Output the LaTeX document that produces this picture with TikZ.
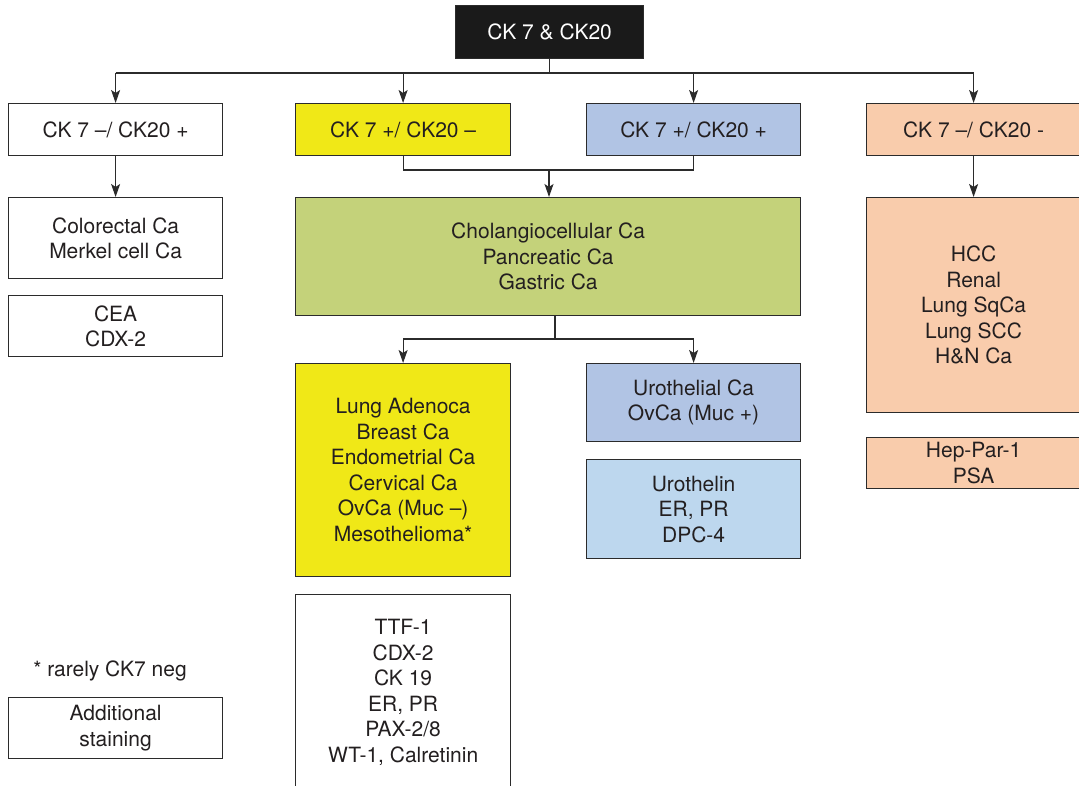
\documentclass[tikz,border=0pt]{standalone}
\usepackage{fontspec}
\setmainfont{TeX Gyre Heros}
\usetikzlibrary{arrows.meta}
\definecolor{linec}{HTML}{2B2B2B}
\definecolor{textc}{HTML}{231F20}
\definecolor{topc}{HTML}{1A1A1A}
\definecolor{yellowc}{HTML}{F0E817}
\definecolor{bluec}{HTML}{B1C4E4}
\definecolor{greenc}{HTML}{C4D27A}
\definecolor{peachc}{HTML}{F9CCAC}
\definecolor{lbluec}{HTML}{BDD7EE}
\begin{document}
\begin{tikzpicture}[x=1pt,y=-1pt,
  box/.style={draw=linec, line width=1.2pt, anchor=north west, inner sep=0pt,
    align=center, text=textc, font=\fontsize{21}{25.5}\selectfont},
  conn/.style={draw=linec, line width=1.2pt},
  arr/.style={conn, -{Stealth[length=13pt,width=9pt,inset=3pt]}}]
\useasboundingbox (0,0) rectangle (1079,786);
\clip (0,0) rectangle (1079,786);
\fill[white] (0,0) rectangle (1079,786);

\node[box, fill=topc, text=white, minimum width=188pt, minimum height=53pt] (top) at (455,5) {CK 7 \& CK20};

\node[box, fill=white, minimum width=214pt, minimum height=52pt] (l1) at (8,103) {CK 7 --/ CK20 +};
\node[box, fill=yellowc, minimum width=215pt, minimum height=52pt] (y1) at (295,103) {CK 7 +/ CK20 --};
\node[box, fill=bluec, minimum width=214pt, minimum height=52pt] (b1) at (586,103) {CK 7 +/ CK20 +};
\node[box, fill=peachc, minimum width=214pt, minimum height=52pt] (p1) at (866,103) {CK 7 --/ CK20 -};

\node[box, fill=white, minimum width=214pt, minimum height=81pt] (l2) at (8,197) {Colorectal Ca\\Merkel cell Ca};
\node[box, fill=white, minimum width=214pt, minimum height=61pt] (l3) at (8,295) {CEA\\CDX-2};

\node[box, fill=greenc, minimum width=505pt, minimum height=118pt] (g) at (295,197) {Cholangiocellular Ca\\Pancreatic Ca\\Gastric Ca};

\node[box, fill=yellowc, minimum width=215pt, minimum height=213pt] (y2) at (295,363) {Lung Adenoca\\Breast Ca\\Endometrial Ca\\Cervical Ca\\OvCa (Muc --)\\Mesothelioma*};
\node[box, fill=bluec, minimum width=214pt, minimum height=78pt] (b2) at (586,363) {Urothelial Ca\\OvCa (Muc +)};
\node[box, fill=lbluec, minimum width=214pt, minimum height=99pt] (b3) at (586,459) {Urothelin\\ER, PR\\DPC-4};

\node[box, fill=peachc, minimum width=214pt, minimum height=215pt] (p2) at (866,197) {HCC\\Renal\\Lung SqCa\\Lung SCC\\H\&N Ca};
\node[box, fill=peachc, minimum width=214pt, minimum height=51pt] (p3) at (866,437) {Hep-Par-1\\PSA};

\node[box, fill=white, minimum width=215pt, minimum height=196pt] (t) at (295,594) {TTF-1\\CDX-2\\CK 19\\ER, PR\\PAX-2/8\\WT-1, Calretinin};

\node[text=textc, font=\fontsize{21}{25.5}\selectfont, inner sep=0pt] (fn) at (110,671) {* rarely CK7 neg};
\node[box, fill=white, minimum width=214pt, minimum height=61pt] (add) at (8,697) {Additional\\staining};

% connectors
\coordinate (j1) at (549,73);
\coordinate (j2) at (549,170);
\coordinate (j3) at (555,339);

\draw[conn] (top.south) -- (top.south |- j1);
\draw[conn] (l1.north |- j1) -- (p1.north |- j1);
\draw[arr] (l1.north |- j1) -- (l1.north);
\draw[arr] (y1.north |- j1) -- (y1.north);
\draw[arr] (b1.north |- j1) -- (b1.north);
\draw[arr] (p1.north |- j1) -- (p1.north);

\draw[arr] (l1.south) -- (l2.north);
\draw[arr] (p1.south) -- (p2.north);

\draw[conn] (y1.south) -- (y1.south |- j2) -- (b1.south |- j2) -- (b1.south);
\draw[arr] (j2) -- (j2 |- g.north);

\draw[conn] (j3 |- g.south) -- (j3);
\draw[conn] (y2.north |- j3) -- (b2.north |- j3);
\draw[arr] (y2.north |- j3) -- (y2.north);
\draw[arr] (b2.north |- j3) -- (b2.north);
\end{tikzpicture}
\end{document}
